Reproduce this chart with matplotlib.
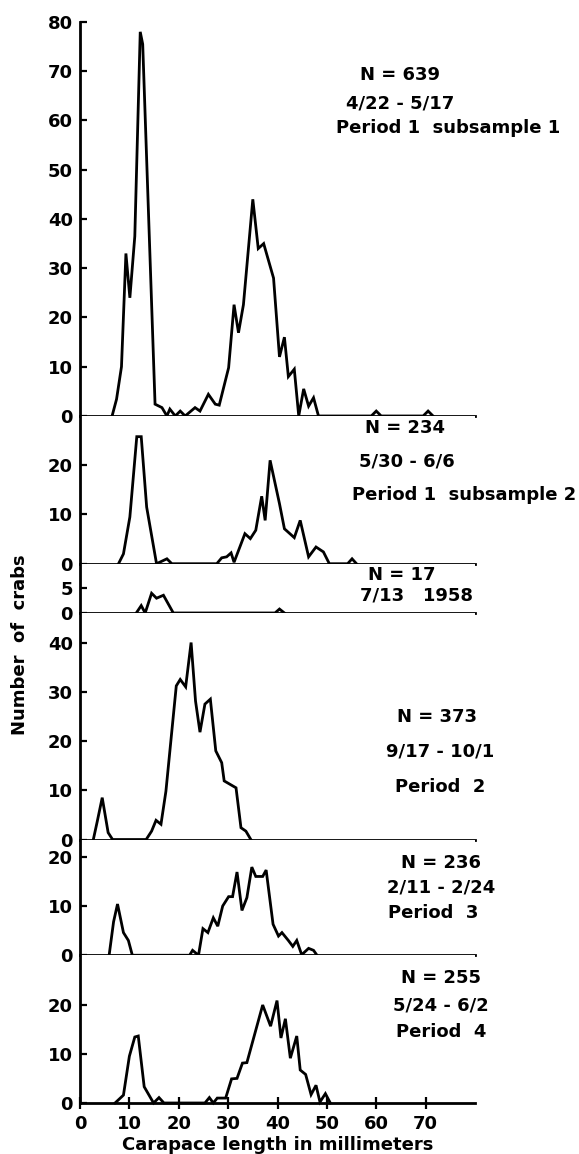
import matplotlib
matplotlib.use("Agg")
import matplotlib.pyplot as plt

plt.rcParams.update({
    "font.family": "DejaVu Sans",
    "font.weight": "bold",
    "axes.labelweight": "bold",
    "font.size": 13,
    "xtick.labelsize": 13, "ytick.labelsize": 13,
})

# carapace length (mm) / number of crabs
p1_mm = [6.5, 7.4, 8.4, 9.3, 10.1, 11.1, 12.2, 12.7, 15.2, 16.6, 17.6, 18.2, 19.3, 20.3,
         21.3, 23.3, 24.3, 26.0, 27.4, 28.2, 30.1, 31.2, 32.1, 33.1, 35.0, 36.1, 37.2,
         39.2, 40.4, 41.4, 42.2, 43.4, 44.3, 45.3, 46.3, 47.3, 48.3,
         59.0, 60.0, 61.0, 69.5, 70.5, 71.5]
p1_n = [0, 3.4, 10, 33, 24, 36.5, 78, 75.5, 2.4, 1.7, 0, 1.4, 0, 1,
        0, 1.7, 1, 4.4, 2.4, 2.2, 9.8, 22.6, 16.9, 22.6, 44, 34, 35,
        28, 12, 16, 8, 9.5, 0, 5.5, 2, 3.7, 0,
        0, 1, 0, 0, 1, 0]

p2_mm = [7.8, 8.8, 10.1, 11.5, 12.4, 13.5, 15.5, 17.6, 18.6, 27.7, 28.7, 29.7, 30.6,
         31.2, 33.4, 34.5, 35.6, 36.8, 37.5, 38.5, 40.4, 41.4, 43.4, 44.6, 46.3, 47.8,
         49.3, 50.5, 54.2, 55.1, 56.0]
p2_n = [0, 2, 9.5, 25.8, 25.8, 11.5, 0, 1, 0, 0, 1.2, 1.4, 2.2,
        0.3, 6.1, 5.1, 6.8, 13.7, 8.8, 21, 12.2, 7.1, 5.3, 8.8, 1.4, 3.4,
        2.4, 0, 0, 1, 0]

p3_mm = [11.4, 12.4, 13.2, 14.5, 15.5, 16.9, 18.9, 39.5, 40.4, 41.4]
p3_n = [0, 1.5, 0, 4, 3, 3.6, 0, 0, 0.8, 0]

p4_mm = [2.7, 3.5, 4.5, 5.7, 6.6, 13.4, 14.5, 15.4, 16.4, 17.4, 19.5, 20.3, 21.4, 22.5,
         23.4, 24.3, 25.3, 26.4, 27.5, 28.7, 29.2, 31.6, 32.6, 33.6, 34.6]
p4_n = [0, 3.7, 8.5, 1.4, 0, 0, 1.7, 3.9, 3.1, 9.8, 31.2, 32.5, 31, 40,
        28.1, 21.8, 27.5, 28.5, 18, 15.6, 11.9, 10.5, 2.4, 1.7, 0]

p5_mm = [5.9, 6.8, 7.6, 8.8, 9.8, 10.6, 22.2, 22.8, 24.0, 24.9, 25.9, 27.0, 27.9, 28.9,
         30.1, 30.9, 31.8, 32.8, 33.8, 34.8, 35.6, 37.0, 37.7, 39.1, 40.2, 40.9, 42.2,
         43.1, 43.9, 44.9, 46.3, 47.3, 48.0]
p5_n = [0, 6.8, 10.4, 4.6, 3, 0, 0, 1, 0, 5.4, 4.6, 7.6, 5.9, 10,
        11.9, 11.9, 16.9, 9.1, 11.7, 17.9, 16, 16, 17.3, 6.3, 3.9, 4.6, 3,
        1.8, 3, 0.1, 1.4, 1, 0]

p6_mm = [7.1, 8.8, 10.0, 11.1, 11.8, 13.0, 14.9, 16.0, 17.0, 25.3, 26.2, 27.0, 27.8,
         29.5, 30.7, 31.8, 32.9, 33.8, 37.0, 38.6, 39.9, 40.7, 41.6, 42.6, 43.9, 44.6,
         45.7, 46.8, 47.8, 48.6, 49.7, 50.7]
p6_n = [0, 1.6, 9.5, 13.4, 13.6, 3.3, 0, 1.1, 0, 0, 1.1, 0, 1,
        1, 4.9, 5, 8.1, 8.2, 19.9, 15.6, 20.8, 13.2, 17.1, 9.1, 13.6, 6.7,
        5.8, 1.7, 3.6, 0.2, 1.9, 0]

ymax = [80, 30, 10, 46, 23.5, 30]
yticks = [range(0, 81, 10), [0, 10, 20], [0, 5], range(0, 41, 10), [0, 10, 20], [0, 10, 20]]
xticks = list(range(0, 71, 10))

labels = [
    [("N = 639", 400, 75), ("4/22 - 5/17", 400, 103), ("Period 1  subsample 1", 448, 128)],
    [("N = 234", 405, 428), ("5/30 - 6/6", 407, 462), ("Period 1  subsample 2", 464, 495)],
    [("N = 17", 402, 575), ("7/13   1958", 417, 595)],
    [("N = 373", 437, 717), ("9/17 - 10/1", 440, 752), ("Period  2", 440, 787)],
    [("N = 236", 441, 863), ("2/11 - 2/24", 441, 888), ("Period  3", 433, 913)],
    [("N = 255", 441, 978), ("5/24 - 6/2", 441, 1005), ("Period  4", 441, 1032)],
]

series = [(p1_mm, p1_n), (p2_mm, p2_n), (p3_mm, p3_n),
          (p4_mm, p4_n), (p5_mm, p5_n), (p6_mm, p6_n)]

W, H = 579, 1154
fig = plt.figure(figsize=(W / 100, H / 100), dpi=100)
gs = fig.add_gridspec(6, 1, height_ratios=ymax, hspace=0,
                      left=80 / W, right=475 / W, top=1 - 22 / H, bottom=1 - 1103 / H)

for i, (x, y) in enumerate(series):
    ax = fig.add_subplot(gs[i])
    ax.plot(x, y, color="k", lw=2.0, clip_on=False, solid_joinstyle="miter")
    ax.set_xlim(0, 80)
    ax.set_ylim(0, ymax[i])
    for s in ("top", "right"):
        ax.spines[s].set_visible(False)
    for s in ("left", "bottom"):
        ax.spines[s].set_linewidth(2.0)
    ax.set_yticks(list(yticks[i]))
    ax.tick_params(axis="y", direction="in", length=5, width=1.6, pad=5)
    if i < 5:
        ax.set_xticks([])
    else:
        ax.set_xticks(xticks)
        ax.tick_params(axis="x", direction="inout", length=9, width=1.6, pad=4)
        ax.set_xlabel("Carapace length in millimeters", labelpad=2)
    for s, tx, ty in labels[i]:
        fig.text(tx / W, 1 - ty / H, s, ha="center", va="center", fontsize=13)

fig.text(20 / W, 1 - 645 / H, "Number  of  crabs", rotation=90, ha="center", va="center",
         fontsize=13)

fig.savefig("out.png", dpi=100)
